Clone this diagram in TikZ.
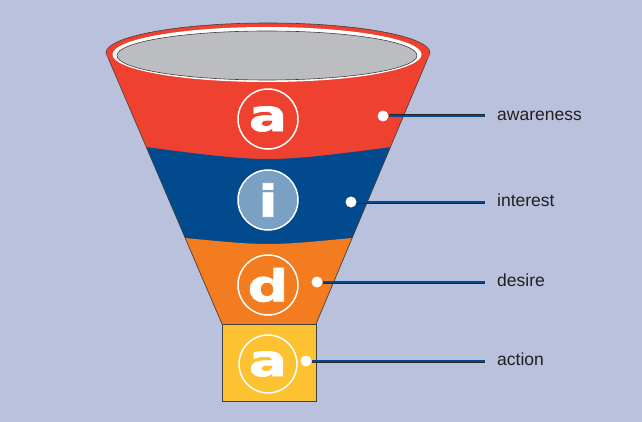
\documentclass[tikz,border=0pt]{standalone}
\usepackage{fontspec}
\setmainfont{Liberation Sans}
\newfontfamily\chuto{DejaVu Sans}[FakeStretch=1.3,FakeBold=1.5]
\definecolor{nen}{RGB}{185,193,220}
\definecolor{do}{RGB}{239,65,48}
\definecolor{xanh}{RGB}{0,74,141}
\definecolor{cam}{RGB}{243,123,32}
\definecolor{vang}{RGB}{253,194,49}
\definecolor{xam}{RGB}{188,189,193}
\definecolor{xanhnhat}{RGB}{122,160,196}
\definecolor{chu}{RGB}{35,31,32}
\begin{document}
\begin{tikzpicture}[x=1pt,y=-1pt,
    vong/.style={circle,draw=white,line width=1.5pt,minimum size=60pt,inner sep=0pt,
        text=white,font=\chuto\bfseries\fontsize{44}{44}\selectfont},
    cham/.style={circle,fill=white,minimum size=11pt,inner sep=0pt},
    nhan/.style={anchor=base west,inner xsep=12pt,text=chu,font=\fontsize{17.5}{17.5}\selectfont},
    duong/.style={draw=black!85,line width=.5pt,double=xanh,double distance=2pt},
    vien/.style={draw=black!75,line width=.6pt}]
    \useasboundingbox (0,0) rectangle (642,422);
    \fill[nen] (0,0) rectangle (642,422);
    % thân phễu
    \begin{scope}
        \clip (106,53)--(222,324)--(316,324)--(430,53)--cycle;
        \fill[do] (90,40) rectangle (450,330);
        \fill[xanh] (90,147)--(145,147) .. controls (268,163) .. (392,147)--(450,147)--(450,330)--(90,330)--cycle;
        \fill[cam] (90,238)--(185,238) .. controls (268,246) .. (352,238)--(450,238)--(450,330)--(90,330)--cycle;
    \end{scope}
    \draw[vien] (106,53)--(222,324) (430,53)--(316,324);
    \filldraw[vien,fill=vang] (222,324) rectangle (316,401);
    % miệng phễu
    \fill[do] (268,53) ellipse [x radius=162pt,y radius=30pt];
    \draw[vien] (106,53) arc[start angle=180,end angle=0,x radius=162pt,y radius=30pt];
    \fill[white] (267,54.5) ellipse [x radius=154.5pt,y radius=27.5pt];
    \filldraw[vien,fill=xam] (267,55.5) ellipse [x radius=150pt,y radius=24.5pt];
    % chữ cái
    \path
    (268,119) node[vong] (ca) {a}
    (268,200) node[vong,fill=xanhnhat] (ci) {i}
    (268,285) node[vong] (cd) {d}
    (268,364) node[vong,minimum size=58pt] (cx) {a};
    % nhãn
    \foreach \ten/\x/\y/\chu in {aw/383/116/awareness,in/351/202/interest,de/317/282/desire,ac/306/361/action}{
        \node[nhan] (l\ten) at (485,\y+4.5) {\chu};
        \coordinate (e\ten) at (485,\y);
        \node[cham] (d\ten) at (\x,\y) {};
        \draw[duong] (d\ten.east)--(e\ten);
    }
\end{tikzpicture}
\end{document}
